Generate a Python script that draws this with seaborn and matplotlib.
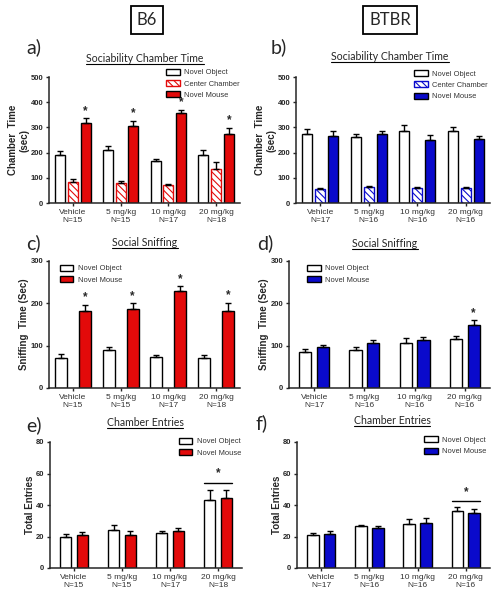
import numpy as np
import pandas as pd
import matplotlib
matplotlib.use("Agg")
import matplotlib.pyplot as plt
from matplotlib.lines import Line2D
from matplotlib.patches import Patch
import seaborn as sns

# ---- data ----
doses = ["Vehicle", "5 mg/kg", "10 mg/kg", "20 mg/kg"]
n_b6 = [15, 15, 17, 18]
n_btbr = [17, 16, 16, 16]

# sociability chamber time (sec)
b6_obj_time = [192, 210, 165, 190]
b6_obj_time_sem = [15, 18, 10, 20]
b6_ctr_time = [85, 80, 72, 135]
b6_ctr_time_sem = [10, 8, 4, 28]
b6_mouse_time = [316, 305, 358, 272]
b6_mouse_time_sem = [20, 22, 12, 25]

btbr_obj_time = [275, 262, 287, 284]
btbr_obj_time_sem = [20, 12, 22, 18]
btbr_ctr_time = [55, 62, 60, 58]
btbr_ctr_time_sem = [5, 7, 4, 7]
btbr_mouse_time = [265, 272, 250, 252]
btbr_mouse_time_sem = [20, 14, 20, 15]

# social sniffing (sec)
b6_obj_sniff = [72, 90, 73, 72]
b6_obj_sniff_sem = [8, 8, 5, 7]
b6_mouse_sniff = [183, 186, 228, 181]
b6_mouse_sniff_sem = [14, 14, 12, 20]

btbr_obj_sniff = [85, 89, 107, 115]
btbr_obj_sniff_sem = [8, 8, 11, 9]
btbr_mouse_sniff = [97, 106, 114, 148]
btbr_mouse_sniff_sem = [5, 8, 7, 12]

# chamber entries
b6_obj_entries = [19.5, 24, 22, 43]
b6_obj_entries_sem = [2, 3, 1.7, 6.5]
b6_mouse_entries = [21, 21, 23.5, 44.2]
b6_mouse_entries_sem = [1.7, 2.5, 2, 5.5]

btbr_obj_entries = [21, 26.5, 28, 36]
btbr_obj_entries_sem = [1.5, 1, 3.2, 3]
btbr_mouse_entries = [21.5, 25.5, 28.5, 35]
btbr_mouse_entries_sem = [2, 1, 3.2, 2.7]

# significance marks
b6_time_stars = [True, True, True, True]
b6_sniff_stars = [True, True, True, True]
btbr_sniff_stars = [False, False, False, True]

RED = "#E30A0A"
BLUE = "#0A0ACC"
HATCH = "\\\\\\\\\\"

sns.set_style("ticks")
plt.rcParams["font.family"] = ["Liberation Sans", "DejaVu Sans"]
plt.rcParams["hatch.linewidth"] = 0.8

fig = plt.figure(figsize=(5.01, 5.99), dpi=100)
W, H = 501, 599


def px_axes(x0, x1, ytop, ybot):
    return fig.add_axes([x0 / W, 1 - ybot / H, (x1 - x0) / W, (ybot - ytop) / H])


def panel(ax, groups, ns, color, ymax, ystep, ylabel, width, gap,
          leg_anchor, stars=None, bracket=None):
    names = [g[0] for g in groups]
    rows = []
    for name, vals, _ in groups:
        for d, v in zip(doses, vals):
            rows.append({"dose": d, "cond": name, "val": v})
    df = pd.DataFrame(rows)
    pal = {}
    for name in names:
        pal[name] = "white" if name in ("Novel Object", "Center Chamber") else color
    sns.barplot(data=df, x="dose", y="val", hue="cond", hue_order=names,
                order=doses, palette=pal, saturation=1, width=width, gap=gap,
                errorbar=None, edgecolor="black", linewidth=1.0, legend=False,
                ax=ax)
    bars = list(ax.containers)
    # hatch the center chamber bars
    for name, cont in zip(names, bars):
        if name == "Center Chamber":
            for b in cont:
                b.set_hatch(HATCH)
                b.set_edgecolor(color)
    # upper-only error bars
    for (name, vals, sems), cont in zip(groups, bars):
        for b, s in zip(cont, sems):
            xc = b.get_x() + b.get_width() / 2
            ax.errorbar(xc, b.get_height(), yerr=[[0], [s]], color="black",
                        lw=1.0, capsize=2.5, capthick=1.0, zorder=3)
    if stars is not None:
        sems = groups[-1][2]
        for b, s, flag in zip(bars[-1], sems, stars):
            if flag:
                xc = b.get_x() + b.get_width() / 2
                ax.text(xc, b.get_height() + s + ymax * 0.012, "*",
                        ha="center", va="bottom", fontsize=8.5, fontweight="bold")
    if bracket is not None:
        gi, yline, ystar = bracket
        left = bars[0][gi]
        right = bars[-1][gi]
        x0 = left.get_x()
        x1 = right.get_x() + right.get_width()
        ax.plot([x0, x1], [yline, yline], color="black", lw=1.0)
        ax.text((x0 + x1) / 2, ystar, "*", ha="center", va="center",
                fontsize=8.5, fontweight="bold")
    ax.set_ylim(0, ymax)
    ax.set_yticks(np.arange(0, ymax + 1, ystep))
    ax.set_xlim(-0.5, 3.5)
    ax.set_xticks(range(4))
    ax.set_xticklabels([f"{d}\nN={n}" for d, n in zip(doses, ns)],
                       fontsize=6, color="#333333", linespacing=1.3)
    for t in ax.get_yticklabels():
        t.set_fontsize(5.5)
        t.set_fontweight("bold")
    ax.tick_params(axis="both", length=2.5, width=1.0, pad=1.5)
    ax.set_xlabel("")
    ax.set_ylabel(ylabel, fontsize=7, fontweight="bold", labelpad=1)
    for sp in ("left", "bottom"):
        ax.spines[sp].set_linewidth(1.1)
    sns.despine(ax=ax)
    handles = []
    for name in names:
        if name == "Novel Object":
            handles.append(Patch(facecolor="white", edgecolor="black", lw=1.0))
        elif name == "Center Chamber":
            handles.append(Patch(facecolor="white", edgecolor=color, lw=1.0,
                                 hatch=HATCH))
        else:
            handles.append(Patch(facecolor=color, edgecolor="black", lw=1.0))
    leg = ax.legend(handles, names, loc="upper left", bbox_to_anchor=leg_anchor,
                    frameon=False, fontsize=5.4, handlelength=1.8,
                    handleheight=0.85, handletextpad=0.6, labelspacing=0.5,
                    borderpad=0, borderaxespad=0)
    for t in leg.get_texts():
        t.set_color("#333333")


titles = []


def title(ax, text, xc, y):
    t = fig.text(xc / W, 1 - y / H, text, ha="center", va="center",
                 fontsize=7.6, family="Lato")
    titles.append(t)


def plabel(text, x, y):
    fig.text(x / W, 1 - y / H, text, ha="left", va="center", fontsize=14,
             family="Lato")


# a) B6 chamber time
ax_a = px_axes(49, 240, 77, 203)
panel(ax_a, [("Novel Object", b6_obj_time, b6_obj_time_sem),
             ("Center Chamber", b6_ctr_time, b6_ctr_time_sem),
             ("Novel Mouse", b6_mouse_time, b6_mouse_time_sem)],
      n_b6, RED, 500, 100, "Chamber  Time\n(sec)", 0.8, 0.22,
      (0.615, 1.065), stars=b6_time_stars)

# b) BTBR chamber time
ax_b = px_axes(296, 490, 77, 203)
panel(ax_b, [("Novel Object", btbr_obj_time, btbr_obj_time_sem),
             ("Center Chamber", btbr_ctr_time, btbr_ctr_time_sem),
             ("Novel Mouse", btbr_mouse_time, btbr_mouse_time_sem)],
      n_btbr, BLUE, 500, 100, "Chamber  Time\n(sec)", 0.8, 0.22,
      (0.61, 1.055))

# c) B6 sniffing
ax_c = px_axes(49, 240, 261, 388)
panel(ax_c, [("Novel Object", b6_obj_sniff, b6_obj_sniff_sem),
             ("Novel Mouse", b6_mouse_sniff, b6_mouse_sniff_sem)],
      n_b6, RED, 300, 100, "Sniffing  Time (Sec)", 1.0, 0.5,
      (0.055, 0.97), stars=b6_sniff_stars)

# d) BTBR sniffing
ax_d = px_axes(289, 490, 261, 388)
panel(ax_d, [("Novel Object", btbr_obj_sniff, btbr_obj_sniff_sem),
             ("Novel Mouse", btbr_mouse_sniff, btbr_mouse_sniff_sem)],
      n_btbr, BLUE, 300, 100, "Sniffing  Time (Sec)", 0.7, 0.3,
      (0.09, 0.97), stars=btbr_sniff_stars)

# e) B6 entries
ax_e = px_axes(50, 242, 442, 568)
panel(ax_e, [("Novel Object", b6_obj_entries, b6_obj_entries_sem),
             ("Novel Mouse", b6_mouse_entries, b6_mouse_entries_sem)],
      n_b6, RED, 80, 20, "Total Entries", 0.7, 0.3,
      (0.67, 1.035), bracket=(3, 54, 60))

# f) BTBR entries
ax_f = px_axes(297, 490, 442, 568)
panel(ax_f, [("Novel Object", btbr_obj_entries, btbr_obj_entries_sem),
             ("Novel Mouse", btbr_mouse_entries, btbr_mouse_entries_sem)],
      n_btbr, BLUE, 80, 20, "Total Entries", 0.7, 0.3,
      (0.66, 1.045), bracket=(3, 42.5, 48))

title(ax_a, "Sociability Chamber Time", 145, 59)
title(ax_b, "Sociability Chamber Time", 390, 57)
title(ax_c, "Social Sniffing", 145, 243)
title(ax_d, "Social Sniffing", 385, 244)
title(ax_e, "Chamber Entries", 145, 423)
title(ax_f, "Chamber Entries", 392, 421)

plabel("a)", 26, 47)
plabel("b)", 271, 47)
plabel("c)", 26, 243)
plabel("d)", 257, 243)
plabel("e)", 26, 425)
plabel("f)", 256, 423)

box = dict(boxstyle="square,pad=0.35", fc="white", ec="black", lw=1.3)
fig.text(147 / W, 1 - 20 / H, "B6", ha="center", va="center", fontsize=12,
         family="Lato", bbox=box)
fig.text(390 / W, 1 - 20 / H, "BTBR", ha="center", va="center", fontsize=12,
         family="Lato", bbox=box)

# underline the panel titles
fig.canvas.draw()
r = fig.canvas.get_renderer()
for t in titles:
    bb = t.get_window_extent(r).transformed(fig.transFigure.inverted())
    fig.add_artist(Line2D([bb.x0, bb.x1], [bb.y0 + 0.001, bb.y0 + 0.001],
                          transform=fig.transFigure, color="black", lw=0.8))

fig.savefig("out.png", dpi=100)
